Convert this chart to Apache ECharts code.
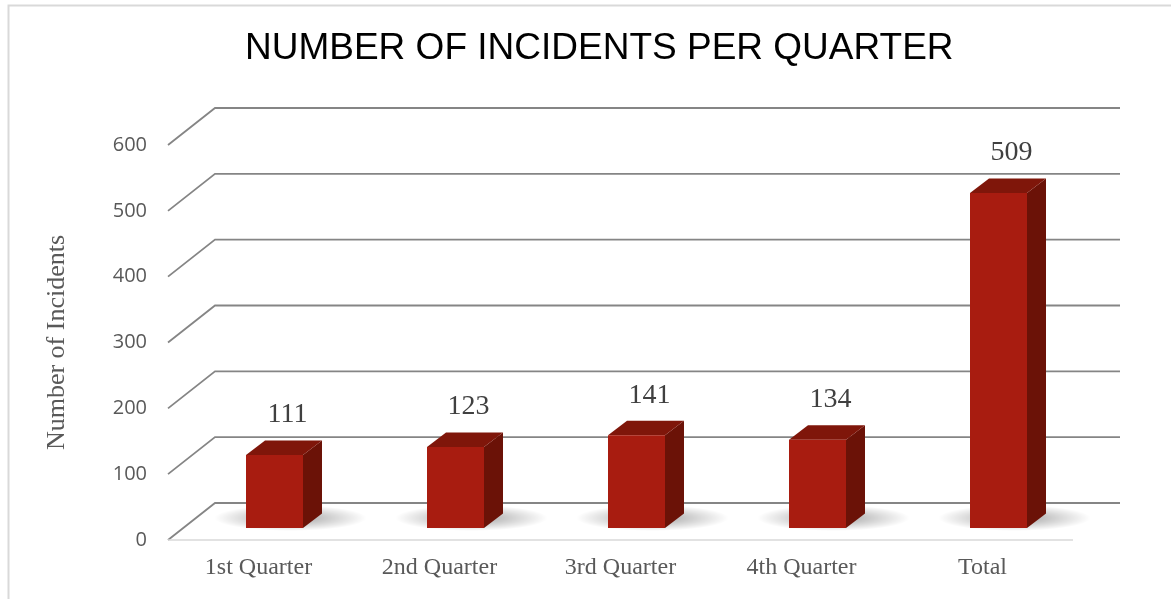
<!DOCTYPE html>
<html>
<head>
<meta charset="utf-8">
<script src="https://cdn.jsdelivr.net/npm/echarts@6/dist/echarts.min.js"></script>
<style>
  html, body { margin: 0; padding: 0; background: #fff; }
  #barChart { width: 1171px; height: 599px; }
</style>
</head>
<body>
<div id="barChart"></div>
<script>
const categories = ['1st Quarter', '2nd Quarter', '3rd Quarter', '4th Quarter', 'Total']
const incidents = [111, 123, 141, 134, 509]
const yTicks = [0, 100, 200, 300, 400, 500, 600]

// perspective offsets (px): back wall, bar front, bar depth
const WALL = [47, -37]
const BAR_FRONT = [16, -12]
const BAR_DEPTH = [19, -14.5]
const BAR_W = 57

const chart = echarts.init(document.getElementById('barChart'))

const option = {
  animation: false,
  title: {
    text: 'NUMBER OF INCIDENTS PER QUARTER',
    left: 240,
    top: 25,
    textStyle: {
      fontFamily: 'Liberation Sans, Arial, sans-serif',
      fontSize: 37,
      fontWeight: 'normal',
      color: '#000'
    }
  },
  graphic: [
    {
      type: 'polyline',
      silent: true,
      shape: { points: [[8.5, 599], [8.5, 5.5], [1171, 5.5]] },
      style: { stroke: '#d9d9d9', lineWidth: 2, fill: null }
    }
  ],
  grid: {
    left: 168,
    right: 98,
    top: 145,
    bottom: 59
  },
  xAxis: {
    type: 'category',
    data: categories,
    axisLine: { show: false },
    axisTick: { show: false },
    axisLabel: {
      margin: 16,
      color: '#595959',
      fontFamily: 'Liberation Serif, Times New Roman, serif',
      fontSize: 24
    }
  },
  yAxis: {
    type: 'value',
    min: 0,
    max: 600,
    interval: 100,
    name: 'Number of Incidents',
    nameLocation: 'middle',
    nameGap: 98,
    nameTextStyle: {
      color: '#595959',
      fontFamily: 'Liberation Serif, Times New Roman, serif',
      fontSize: 26
    },
    axisLine: { show: false },
    axisTick: { show: false },
    splitLine: { show: false },
    axisLabel: {
      margin: 21,
      color: '#595959',
      fontFamily: 'Open Sans, sans-serif',
      fontSize: 20,
      padding: [4, 0, 0, 0]
    }
  },
  series: [
    {
      // walls: diagonal + back gridline for every tick
      type: 'custom',
      silent: true,
      z: 1,
      data: yTicks.map((v) => [0, v]),
      renderItem: function (params, api) {
        const cs = params.coordSys
        const v = api.value(1)
        const y = api.coord([0, v])[1]
        const x0 = cs.x
        const x1 = cs.x + cs.width
        const children = [
          {
            type: 'polyline',
            shape: {
              points: [
                [x0, y],
                [x0 + WALL[0], y + WALL[1]],
                [x1 + WALL[0], y + WALL[1]]
              ]
            },
            style: { stroke: '#858585', lineWidth: 1.8, fill: null }
          }
        ]
        if (v === 0) {
          children.push({
            type: 'line',
            shape: { x1: x0, y1: y, x2: x1, y2: y },
            style: { stroke: '#d9d9d9', lineWidth: 1.5 }
          })
        }
        return { type: 'group', children: children }
      }
    },
    {
      type: 'custom',
      z: 2,
      data: incidents.map((v, i) => [i, v]),
      renderItem: function (params, api) {
        const top = api.coord([api.value(0), api.value(1)])
        const base = api.coord([api.value(0), 0])
        const cx = base[0] + BAR_FRONT[0]
        const xl = cx - BAR_W / 2
        const xr = cx + BAR_W / 2
        const yb = base[1] + BAR_FRONT[1]
        const yt = top[1] + BAR_FRONT[1]
        const dx = BAR_DEPTH[0]
        const dy = BAR_DEPTH[1]
        return {
          type: 'group',
          children: [
            {
              type: 'circle',
              shape: { cx: cx + 16, cy: yb - 10, r: 76 },
              scaleY: 0.17,
              originX: cx + 16,
              originY: yb - 10,
              style: {
                fill: {
                  type: 'radial',
                  x: 0.5,
                  y: 0.5,
                  r: 0.5,
                  colorStops: [
                    { offset: 0, color: 'rgba(0,0,0,0.38)' },
                    { offset: 1, color: 'rgba(0,0,0,0)' }
                  ]
                }
              }
            },
            {
              type: 'polygon',
              shape: {
                points: [[xr, yt], [xr + dx, yt + dy], [xr + dx, yb + dy], [xr, yb]]
              },
              style: { fill: '#6b1207' }
            },
            {
              type: 'polygon',
              shape: {
                points: [[xl, yt], [xl + dx, yt + dy], [xr + dx, yt + dy], [xr, yt]]
              },
              style: { fill: '#7f160a' }
            },
            {
              type: 'rect',
              shape: { x: xl, y: yt, width: BAR_W, height: yb - yt },
              style: { fill: '#a81c10' }
            },
            {
              type: 'text',
              x: cx + 13,
              y: yt - 40,
              style: {
                text: String(api.value(1)),
                align: 'center',
                verticalAlign: 'middle',
                fill: '#404040',
                fontFamily: 'Liberation Serif, Times New Roman, serif',
                fontSize: 28
              }
            }
          ]
        }
      }
    }
  ]
}

chart.setOption(option)

window.addEventListener('resize', function () {
  chart.resize()
})
</script>
</body>
</html>
